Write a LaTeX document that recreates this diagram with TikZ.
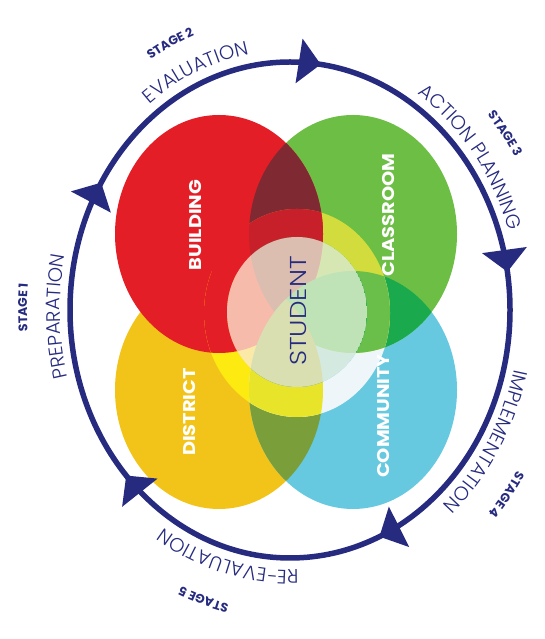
\documentclass[tikz,border=0pt]{standalone}
\usepackage{fontspec}
\setmainfont{Poppins}
\newfontfamily\lightfont{Poppins}[UprightFont=* Light]
\usetikzlibrary{arrows.meta,decorations.markings,decorations.text}

\definecolor{navy}{HTML}{262B80}
\definecolor{bred}{HTML}{E41E26}
\definecolor{bgreen}{HTML}{6CBE45}
\definecolor{byellow}{HTML}{F2C41A}
\definecolor{bblue}{HTML}{67C9E0}
\definecolor{maroon}{HTML}{7F2A32}
\definecolor{dkgreen}{HTML}{1AA94C}
\definecolor{olive}{HTML}{7A9F3A}
\definecolor{hred}{HTML}{C8202A}
\definecolor{hlime}{HTML}{D2DC3C}
\definecolor{hyellow}{HTML}{FCEA10}
\definecolor{hblue}{HTML}{EEF6FA}
\definecolor{hgreen}{HTML}{6ABE4A}
\definecolor{holive}{HTML}{E8E42A}
\definecolor{cream}{HTML}{FFF8E0}

\newcommand\thinlbl{\lightfont\fontsize{19.5}{23}\selectfont\color{navy}}
\newcommand\stagelbl{\bfseries\fontsize{12.5}{15}\selectfont\color{navy}}

\tikzset{blob/.style={x radius=104pt,y radius=119pt},
  ring/.style={draw=navy,line width=5.5pt,postaction={decorate},
    decoration={markings,
      mark=at position 0.026 with {\arrowreversed{Triangle[length=22pt,width=44pt]}},
      mark=at position 0.229 with {\arrowreversed{Triangle[length=22pt,width=44pt]}},
      mark=at position 0.410 with {\arrowreversed{Triangle[length=22pt,width=44pt]}},
      mark=at position 0.621 with {\arrowreversed{Triangle[length=22pt,width=44pt]}},
      mark=at position 0.813 with {\arrowreversed{Triangle[length=22pt,width=44pt]}}}},
  ringtext/.style={decorate,decoration={text along path,text align=center,text={#1}}},
  area/.style={font=\bfseries\fontsize{17}{20}\selectfont,text=white,rotate=90,xscale=1.14}}

% the four areas, then the three overlaps
\newcommand\fourcircles[7]{%
  \fill[#3] (dist) ellipse [blob];
  \fill[#4] (comm) ellipse [blob];
  \fill[#2] (clas) ellipse [blob];
  \fill[#1] (bldg) ellipse [blob];
  \begin{scope}\clip (bldg) ellipse [blob]; \fill[#5] (clas) ellipse [blob];\end{scope}
  \begin{scope}\clip (clas) ellipse [blob]; \fill[#6] (comm) ellipse [blob];\end{scope}
  \begin{scope}\clip (dist) ellipse [blob]; \fill[#7] (comm) ellipse [blob];\end{scope}}

\begin{document}
\begin{tikzpicture}[x=1pt,y=1pt]
  \useasboundingbox (0,0) rectangle (544,639);

  \coordinate (c)    at (290,329);
  \coordinate (bldg) at (219,405);
  \coordinate (clas) at (353,405);
  \coordinate (dist) at (219,249);
  \coordinate (comm) at (353,249);
  \coordinate (halo) at (297,326);
  \coordinate (stud) at (297,327);

  \fourcircles{bred}{bgreen}{byellow}{bblue}{maroon}{dkgreen}{olive}
  \begin{scope}
    \clip (halo) ellipse [x radius=93pt,y radius=104pt];
    \fourcircles{bred}{hlime}{hyellow}{hblue}{hred}{hgreen}{holive}
  \end{scope}
  \begin{scope}
    \clip (stud) ellipse [x radius=70pt,y radius=75pt];
    \fourcircles{bred}{bgreen}{byellow}{bblue}{maroon}{dkgreen}{olive}
    \fill[cream,opacity=.72] (stud) ellipse [x radius=70pt,y radius=75pt];
  \end{scope}

  \node (building)  [area] at (196,414) {BUILDING};
  \node (classroom) [area] at (389,424) {CLASSROOM};
  \node (district)  [area] at (190,227) {DISTRICT};
  \node (community) [area] at (384,223) {COMMUNITY};
  \node (student)   [rotate=90,xscale=1.14,text=navy,font=\lightfont\fontsize{23}{26}\selectfont] at (298,328) {STUDENT};

  \draw[ring] (c) ellipse [x radius=220pt,y radius=248pt];

  % stage names just outside the ring
  \path[ringtext={|\thinlbl|PREPARATION}] (c) ++(221:230pt and 260pt) arc[start angle=221,end angle=142,x radius=230pt,y radius=260pt];
  \path[ringtext={|\thinlbl|EVALUATION}] (c) ++(153:230pt and 260pt) arc[start angle=153,end angle=73,x radius=230pt,y radius=260pt];
  \path[ringtext={|\thinlbl|ACTION PLANNING}] (c) ++(85:230pt and 260pt) arc[start angle=85,end angle=-8,x radius=230pt,y radius=260pt];
  \path[ringtext={|\thinlbl|IMPLEMENTATION}] (c) ++(12:230pt and 260pt) arc[start angle=12,end angle=-76,x radius=230pt,y radius=260pt];
  \path[ringtext={|\thinlbl|RE-EVALUATION}] (c) ++(-65:230pt and 260pt) arc[start angle=-65,end angle=-145,x radius=230pt,y radius=260pt];

  % stage numbers
  \path[ringtext={|\stagelbl|STAGE 1}] (c) ++(210:263pt and 295pt) arc[start angle=210,end angle=149,x radius=263pt,y radius=295pt];
  \path[ringtext={|\stagelbl|STAGE 2}] (c) ++(146:263pt and 295pt) arc[start angle=146,end angle=86,x radius=263pt,y radius=295pt];
  \path[ringtext={|\stagelbl|STAGE 3}] (c) ++(67:263pt and 295pt) arc[start angle=67,end angle=7,x radius=263pt,y radius=295pt];
  \path[ringtext={|\stagelbl|STAGE 4}] (c) ++(-8:268pt and 302pt) arc[start angle=-8,end angle=-68,x radius=268pt,y radius=302pt];
  \path[ringtext={|\stagelbl|STAGE 5}] (c) ++(-78:268pt and 302pt) arc[start angle=-78,end angle=-138,x radius=268pt,y radius=302pt];
\end{tikzpicture}
\end{document}
